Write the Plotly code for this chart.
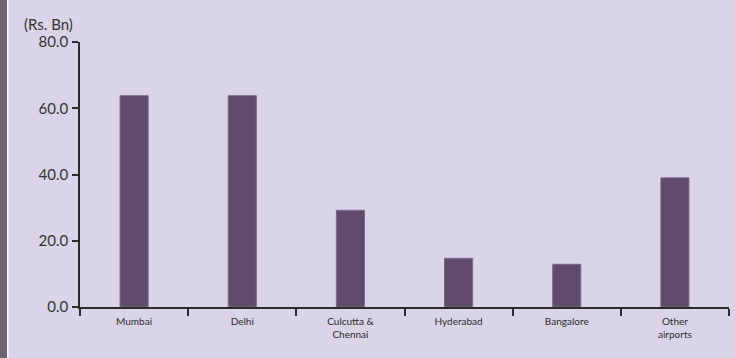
import plotly.graph_objects as go

# Airport investment by location (Rs. Bn)
airports = ['Mumbai', 'Delhi', 'Culcutta &<br>Chennai', 'Hyderabad',
            'Bangalore', 'Other<br>airports']
investment = [63.8, 63.8, 29.2, 14.7, 12.9, 39.0]
y_ticks = [0, 20, 40, 60, 80]

bg = '#D9D4EA'
bar_col = '#624A6B'
ink = '#2B2B2B'

fig = go.Figure(go.Bar(
    x=airports,
    y=investment,
    width=0.26,
    marker=dict(color=bar_col, line=dict(color='#7F6A8A', width=1)),
    hoverinfo='x+y'))

fig.update_layout(
    width=735, height=358,
    margin=dict(l=80, r=6, t=42, b=51),
    paper_bgcolor=bg,
    plot_bgcolor=bg,
    showlegend=False,
    font=dict(family='Lato, "Open Sans", sans-serif', color=ink),
)

fig.update_xaxes(
    type='category',
    range=[-0.5, 5.5],
    showline=True, linecolor=ink, linewidth=1.5,
    ticks='outside', tickson='boundaries', ticklen=7,
    tickcolor=ink, tickwidth=1.5,
    showgrid=False, zeroline=False,
    tickfont=dict(size=10, color=ink),
    ticklabelstandoff=4,
)

fig.update_yaxes(
    range=[0, 80],
    tickvals=y_ticks,
    tickformat='.1f',
    showline=True, linecolor=ink, linewidth=1.5,
    ticks='outside', ticklen=6, tickcolor=ink, tickwidth=1.5,
    showgrid=False, zeroline=False,
    tickfont=dict(size=15, color='#333333'),
    ticklabelstandoff=1,
)

# units label above the y axis
fig.add_annotation(
    text='(Rs. Bn)', xref='paper', yref='paper',
    x=-0.09, y=1 + 18 / 265, xanchor='left', yanchor='middle',
    showarrow=False, font=dict(size=15, color='#333333'))

# grey frame strip on the left edge of the slide
fig.add_shape(type='rect', xref='paper', yref='paper',
              x0=-80 / 649, x1=-73 / 649, y0=-51 / 265, y1=1 + 42 / 265,
              fillcolor='#6B6670', line=dict(width=0), layer='above')
fig.add_shape(type='rect', xref='paper', yref='paper',
              x0=-73 / 649, x1=-71.5 / 649, y0=-51 / 265, y1=1 + 42 / 265,
              fillcolor='#FFFFFF', line=dict(width=0), layer='above')

fig.write_html('out.html',
               config={'displayModeBar': False},
               post_script="document.body.style.margin='0';")
